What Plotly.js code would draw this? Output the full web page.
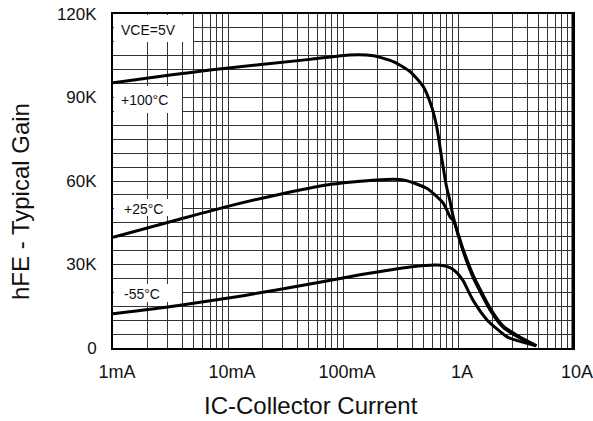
<!DOCTYPE html>
<html>
<head>
<meta charset="utf-8">
<script src="https://cdn.plot.ly/plotly-3.0.1.min.js"></script>
<style>html,body{margin:0;padding:0;background:#fff;}#chart{width:593px;height:421px;}</style>
</head>
<body>
<div id="chart"></div>
<script>
// Collector current (A) and typical gain hFE for each temperature
const current100 = [0.001, 0.00697, 0.0516, 0.115, 0.184, 0.274, 0.383, 0.499, 0.59, 0.653, 0.726, 0.79, 0.85, 0.91, 1.1, 1.35, 1.9, 2.46, 3.46, 4.8];
const hfe100     = [95300, 99900, 103700, 105300, 105000, 102900, 99300, 93900, 86700, 79500, 67500, 58500, 53000, 47000, 35200, 25500, 13700, 7500, 3600, 800];

const current25 = [0.001, 0.00358, 0.00975, 0.0265, 0.072, 0.196, 0.334, 0.534, 0.745, 0.851, 0.92, 1.1, 1.35, 1.9, 2.46, 3.46, 4.8];
const hfe25     = [39800, 46000, 50800, 55000, 58600, 60400, 60400, 57400, 52000, 47200, 45500, 35800, 26300, 14400, 8000, 3900, 800];

const currentM55 = [0.001, 0.00358, 0.0136, 0.0516, 0.141, 0.383, 0.653, 0.851, 0.95, 1.1, 1.35, 1.79, 2.67, 3.5, 4.8];
const hfeM55     = [12300, 15200, 18800, 23000, 26300, 29100, 29800, 28900, 27500, 24400, 17200, 10100, 4000, 2300, 800];

const seriesNames = ['+100°C', '+25°C', '-55°C'];
const xTickDecades = [0.001, 0.01, 0.1, 1, 10];
const xTickLabels = ['1mA', '10mA', '100mA', '1A', '10A'];
const yTickVals = [0, 30000, 60000, 90000, 120000];
const yTickLabels = ['0', '30K', '60K', '90K', '120K'];
const conditionLabel = 'VCE=5V';

// log grid positions 1..9 per decade
const xGridVals = [];
const xGridText = [];
for (let d = 0; d < xTickDecades.length; d++) {
  const base = xTickDecades[d];
  const maxK = (d === xTickDecades.length - 1) ? 1 : 9;
  for (let k = 1; k <= maxK; k++) {
    xGridVals.push(base * k);
    xGridText.push(k === 1 ? xTickLabels[d] : '');
  }
}

const FONT = '"Liberation Sans", Arial, Helvetica, sans-serif';
const lineStyle = {color: '#000', width: 3, shape: 'spline', smoothing: 0.6};

const traces = [
  {x: current100, y: hfe100, name: seriesNames[0], mode: 'lines', line: lineStyle, hoverinfo: 'skip'},
  {x: current25, y: hfe25, name: seriesNames[1], mode: 'lines', line: lineStyle, hoverinfo: 'skip'},
  {x: currentM55, y: hfeM55, name: seriesNames[2], mode: 'lines', line: lineStyle, hoverinfo: 'skip'}
];

const pxToPaperY = (py) => (348 - py) / 334;
const pxToPaperX = (px) => (px - 113) / 460;

function box(x0, y0, x1, y1) {
  return {text: ' ', xref: 'paper', yref: 'paper', x: pxToPaperX(x0), y: pxToPaperY(y0),
    xanchor: 'left', yanchor: 'top', showarrow: false,
    width: x1 - x0, height: y1 - y0, bgcolor: '#fff', borderpad: 0, borderwidth: 0,
    font: {size: 2}};
}

function label(text, px, py) {
  return {text: text, xref: 'paper', yref: 'paper', x: pxToPaperX(px), y: pxToPaperY(py),
    xanchor: 'left', yanchor: 'middle', showarrow: false,
    font: {family: FONT, size: 14, color: '#111'}};
}

const layout = {
  width: 593, height: 421,
  margin: {l: 113, r: 20, t: 14, b: 73},
  paper_bgcolor: '#fff', plot_bgcolor: '#fff',
  showlegend: false,
  font: {family: FONT, color: '#111'},
  xaxis: {
    type: 'log', range: [-3, 1],
    tickmode: 'array', tickvals: xGridVals, ticktext: xGridText,
    ticks: '', showgrid: true, gridcolor: '#333', gridwidth: 1,
    showline: true, linecolor: '#000', linewidth: 2, mirror: true,
    tickfont: {family: FONT, size: 18, color: '#111'},
    ticklabelstandoff: 6, ticklabelshift: 4, ticklabeloverflow: 'allow',
    zeroline: false
  },
  yaxis: {
    range: [0, 120000],
    tickmode: 'array', tickvals: yTickVals, ticktext: yTickLabels,
    ticks: '', showgrid: true, gridcolor: '#333', gridwidth: 1,
    minor: {tickmode: 'linear', tick0: 0, dtick: 5000, showgrid: true, gridcolor: '#333', gridwidth: 1, ticks: ''},
    showline: true, linecolor: '#000', linewidth: 2, mirror: true,
    tickfont: {family: FONT, size: 17, color: '#111'},
    ticklabelstandoff: 11,
    zeroline: false
  },
  shapes: [
    {type: 'line', xref: 'paper', yref: 'paper', x0: 1, x1: 1, y0: 0, y1: 1, line: {color: '#000', width: 3}}
  ],
  annotations: [
    box(114, 15, 193, 42),
    box(114, 86, 182, 113),
    box(114, 199, 182, 216),
    box(114, 284, 182, 302),
    label(conditionLabel, 119, 30),
    label(seriesNames[0], 119, 100),
    label(seriesNames[1], 122, 209),
    label(seriesNames[2], 122, 294),
    {text: 'IC-Collector Current', xref: 'paper', yref: 'paper', x: pxToPaperX(311), y: pxToPaperY(405),
      xanchor: 'center', yanchor: 'middle', showarrow: false,
      font: {family: FONT, size: 24, color: '#111'}},
    {text: 'hFE - Typical Gain', xref: 'paper', yref: 'paper', x: pxToPaperX(20), y: pxToPaperY(202),
      xanchor: 'center', yanchor: 'middle', showarrow: false, textangle: -90,
      font: {family: FONT, size: 24, color: '#111'}}
  ]
};

Plotly.newPlot('chart', traces, layout, {displayModeBar: false, staticPlot: true});
</script>
</body>
</html>
